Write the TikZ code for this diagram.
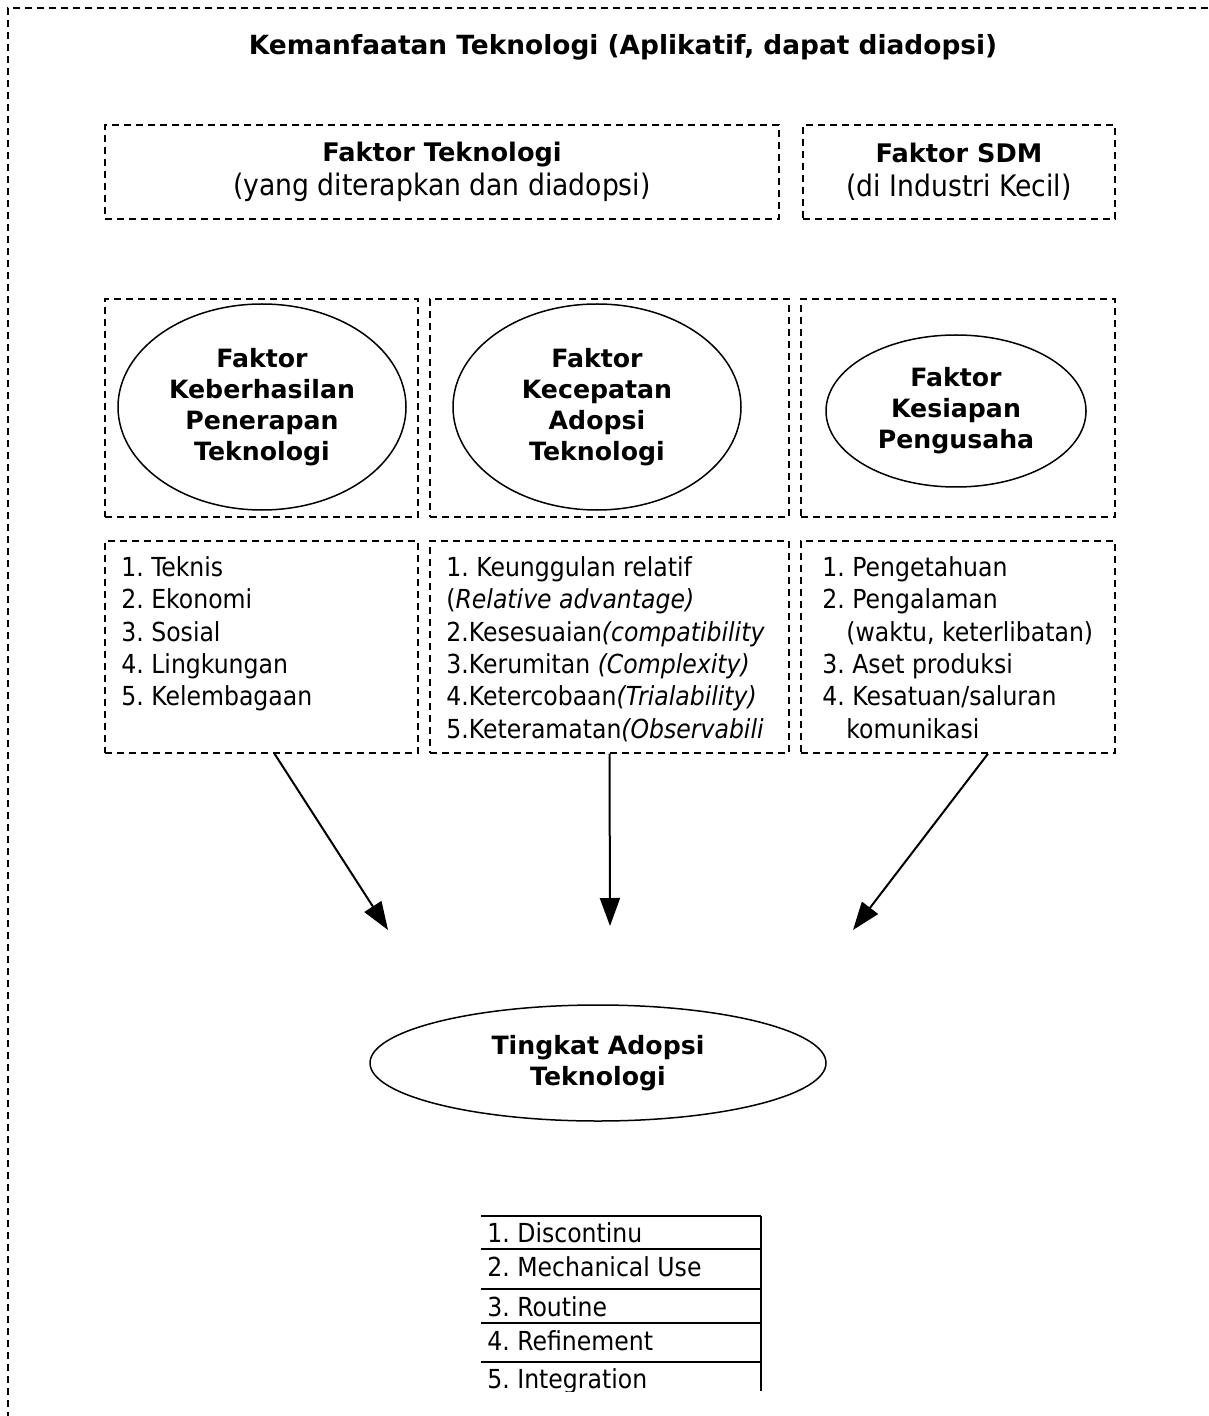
\documentclass[tikz,border=0pt]{standalone}
\usepackage{fontspec}
\setmainfont{DejaVu Sans Condensed}[BoldFont={DejaVu Sans Bold}]
\usetikzlibrary{arrows.meta,shapes.geometric}
\frenchspacing

\tikzset{
  dashbox/.style={draw=black, dash pattern=on 3.5pt off 2.5pt, line width=0.7pt, inner sep=0pt},
  faktor/.style={draw=black, ellipse, line width=0.75pt, inner sep=0pt, align=center,
    font=\fontsize{12.6}{15.5}\selectfont\bfseries},
  daftar/.style={anchor=north west, inner sep=0pt, align=left,
    font=\fontsize{13.1}{16.2}\selectfont},
  tahap/.style={anchor=west, inner sep=0pt, font=\fontsize{13.1}{16}\selectfont},
  panah/.style={draw=black, line width=1pt, -{Triangle[length=14pt, width=10pt]}},
}

\begin{document}
\begin{tikzpicture}[x=0.5pt, y=-0.5pt]
  \useasboundingbox (0,0) rectangle (1208,1416);
  % bingkai luar
  \draw[dash pattern=on 3.5pt off 2.5pt, line width=0.6pt] (1208,8) -- (8,8) -- (8,1416);
  \node[font=\fontsize{13.2}{16}\selectfont\bfseries] (judul) at (623,47)
    {Kemanfaatan Teknologi (Aplikatif, dapat diadopsi)};

  % baris atas
  \node[dashbox, minimum width=337pt, minimum height=47pt, align=center,
    font=\fontsize{14.8}{17}\selectfont] (tekno) at (442,172)
    {{\fontsize{12.8}{17}\selectfont\bfseries Faktor Teknologi}\\(yang diterapkan dan diadopsi)};
  \node[dashbox, minimum width=156pt, minimum height=47pt, align=center,
    font=\fontsize{14.8}{17}\selectfont] (sdm) at (959,172)
    {{\fontsize{12.8}{17}\selectfont\bfseries Faktor SDM}\\(di Industri Kecil)};

  % kotak faktor
  \node[dashbox, minimum width=156.5pt, minimum height=109pt] (k1) at (261.5,408) {};
  \node[dashbox, minimum width=179.5pt, minimum height=109pt] (k2) at (609.5,408) {};
  \node[dashbox, minimum width=157pt, minimum height=109pt] (k3) at (958,408) {};
  \node[faktor, minimum width=144pt, minimum height=103pt] (e1) at (262,407)
    {Faktor\\Keberhasilan\\Penerapan\\Teknologi};
  \node[faktor, minimum width=144pt, minimum height=103pt] (e2) at (597,407)
    {Faktor\\Kecepatan\\Adopsi\\Teknologi};
  \node[faktor, minimum width=130pt, minimum height=76pt] (e3) at (956,411)
    {Faktor\\Kesiapan\\Pengusaha};

  % kotak daftar
  \node[dashbox, minimum width=156.5pt, minimum height=106pt] (d1) at (261.5,647) {};
  \node[dashbox, minimum width=179.5pt, minimum height=106pt] (d2) at (609.5,647) {};
  \node[dashbox, minimum width=157pt, minimum height=106pt] (d3) at (958,647) {};
  \node[daftar] (l1) at (121,556)
    {1. Teknis\\2. Ekonomi\\3. Sosial\\4. Lingkungan\\5. Kelembagaan};
  \begin{scope}
    \clip (432,545) rectangle (764,750);
    \node[daftar] (l2) at (446,556)
      {1. Keunggulan relatif\\(\textit{Relative advantage)}\\2.Kesesuaian\textit{(compatibility}\\3.Kerumitan \textit{(Complexity)}\\4.Ketercobaan\textit{(Trialability)}\\5.Keteramatan\textit{(Observability)}};
  \end{scope}
  \node[daftar] (l3) at (822,556)
    {1. Pengetahuan\\2. Pengalaman\\\hspace*{12pt}(waktu, keterlibatan)\\3. Aset produksi\\4. Kesatuan/saluran\\\hspace*{12pt}komunikasi};

  % tingkat adopsi
  \node[faktor, minimum width=228pt, minimum height=58pt] (adopsi) at (598,1063)
    {Tingkat Adopsi\\Teknologi};
  \coordinate (t1) at (388,930);
  \coordinate (t2) at (610,926);
  \coordinate (t3) at (853,930);
  \draw[panah] ([xshift=6.5pt]d1.south) -- (t1);
  \draw[panah] (d2.south) -- (t2);
  \draw[panah] ([xshift=15pt]d3.south) -- (t3);

  % tabel tahap
  \begin{scope}
    \clip (470,1200) rectangle (800,1391);
    \foreach \y in {1216,1249,1289,1323,1362}
      \draw[line width=1pt] (481,\y) -- (761,\y);
    \draw[line width=1pt] (761,1216) -- (761,1391);
    \node[tahap] (s1) at (487,1233) {1. Discontinu};
    \node[tahap] (s2) at (487,1267) {2. Mechanical Use};
    \node[tahap] (s3) at (487,1307) {3. Routine};
    \node[tahap] (s4) at (487,1341) {4. Refinement};
    \node[tahap] (s5) at (487,1381) {5. Integration};
  \end{scope}
\end{tikzpicture}
\end{document}
